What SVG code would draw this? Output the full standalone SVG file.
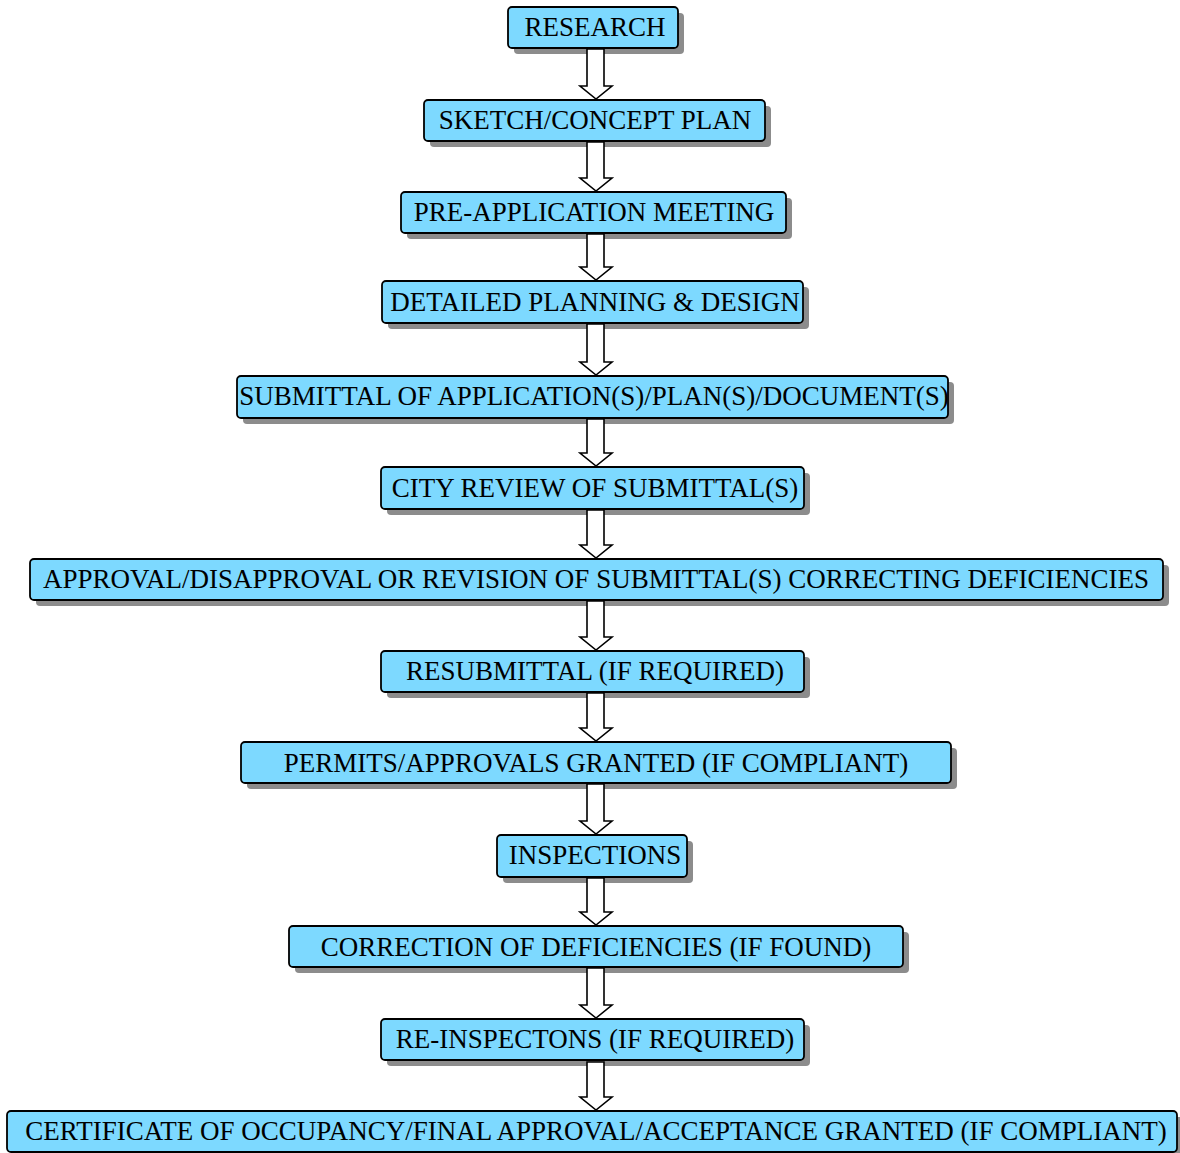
<svg xmlns="http://www.w3.org/2000/svg" width="1180" height="1153" viewBox="0 0 1180 1153">
<style>
.sh{fill:#8c8c8c}
.bx{fill:#7dd9ff;stroke:#000;stroke-width:1.8}
.tx{font-family:"Liberation Serif","Times New Roman",serif;font-size:27px;fill:#000;text-anchor:middle}
.ar{fill:#fff;stroke:#000;stroke-width:1.6;stroke-linejoin:miter}
</style>
<rect width="1180" height="1153" fill="#fff"/>
<g id="n1"><rect class="sh" x="514" y="13" width="170" height="41" rx="4"/><rect class="bx" x="508" y="7" width="170" height="41" rx="4"/><text class="tx" x="595" y="36">RESEARCH</text></g>
<g id="n2"><rect class="sh" x="430" y="106" width="341" height="41" rx="4"/><rect class="bx" x="424" y="100" width="341" height="41" rx="4"/><text class="tx" x="595" y="129">SKETCH/CONCEPT PLAN</text></g>
<g id="n3"><rect class="sh" x="407" y="198" width="385" height="41" rx="4"/><rect class="bx" x="401" y="192" width="385" height="41" rx="4"/><text class="tx" x="594" y="221">PRE-APPLICATION MEETING</text></g>
<g id="n4"><rect class="sh" x="388" y="287" width="421" height="42" rx="4"/><rect class="bx" x="382" y="281" width="421" height="42" rx="4"/><text class="tx" x="595" y="311">DETAILED PLANNING &amp; DESIGN</text></g>
<g id="n5"><rect class="sh" x="243" y="382" width="711" height="42" rx="4"/><rect class="bx" x="237" y="376" width="711" height="42" rx="4"/><text class="tx" x="594" y="405">SUBMITTAL OF APPLICATION(S)/PLAN(S)/DOCUMENT(S)</text></g>
<g id="n6"><rect class="sh" x="387" y="473" width="423" height="42" rx="4"/><rect class="bx" x="381" y="467" width="423" height="42" rx="4"/><text class="tx" x="595" y="497">CITY REVIEW OF SUBMITTAL(S)</text></g>
<g id="n7"><rect class="sh" x="36" y="565" width="1133" height="41" rx="4"/><rect class="bx" x="30" y="559" width="1133" height="41" rx="4"/><text class="tx" x="596" y="588">APPROVAL/DISAPPROVAL OR REVISION OF SUBMITTAL(S) CORRECTING DEFICIENCIES</text></g>
<g id="n8"><rect class="sh" x="387" y="657" width="423" height="41" rx="4"/><rect class="bx" x="381" y="651" width="423" height="41" rx="4"/><text class="tx" x="595" y="680">RESUBMITTAL (IF REQUIRED)</text></g>
<g id="n9"><rect class="sh" x="247" y="748" width="710" height="41" rx="4"/><rect class="bx" x="241" y="742" width="710" height="41" rx="4"/><text class="tx" x="596" y="772">PERMITS/APPROVALS GRANTED (IF COMPLIANT)</text></g>
<g id="n10"><rect class="sh" x="503" y="841" width="190" height="42" rx="4"/><rect class="bx" x="497" y="835" width="190" height="42" rx="4"/><text class="tx" x="595" y="864">INSPECTIONS</text></g>
<g id="n11"><rect class="sh" x="295" y="932" width="614" height="41" rx="4"/><rect class="bx" x="289" y="926" width="614" height="41" rx="4"/><text class="tx" x="596" y="956">CORRECTION OF DEFICIENCIES (IF FOUND)</text></g>
<g id="n12"><rect class="sh" x="387" y="1025" width="423" height="41" rx="4"/><rect class="bx" x="381" y="1019" width="423" height="41" rx="4"/><text class="tx" x="595" y="1048">RE-INSPECTONS (IF REQUIRED)</text></g>
<g id="n13"><rect class="sh" x="13" y="1117" width="1170" height="41" rx="4"/><rect class="bx" x="7" y="1111" width="1170" height="41" rx="4"/><text class="tx" x="596" y="1140">CERTIFICATE OF OCCUPANCY/FINAL APPROVAL/ACCEPTANCE GRANTED (IF COMPLIANT)</text></g>
<g id="connectors">
<path class="ar" d="M587,49 L587,86 L580,86 L596,99 L612,86 L604,86 L604,49 Z"/>
<path class="ar" d="M587,142 L587,178 L580,178 L596,191 L612,178 L604,178 L604,142 Z"/>
<path class="ar" d="M587,234 L587,267 L580,267 L596,280 L612,267 L604,267 L604,234 Z"/>
<path class="ar" d="M587,324 L587,362 L580,362 L596,375 L612,362 L604,362 L604,324 Z"/>
<path class="ar" d="M587,419 L587,453 L580,453 L596,466 L612,453 L604,453 L604,419 Z"/>
<path class="ar" d="M587,510 L587,545 L580,545 L596,558 L612,545 L604,545 L604,510 Z"/>
<path class="ar" d="M587,601 L587,637 L580,637 L596,650 L612,637 L604,637 L604,601 Z"/>
<path class="ar" d="M587,693 L587,728 L580,728 L596,741 L612,728 L604,728 L604,693 Z"/>
<path class="ar" d="M587,784 L587,821 L580,821 L596,834 L612,821 L604,821 L604,784 Z"/>
<path class="ar" d="M587,878 L587,912 L580,912 L596,925 L612,912 L604,912 L604,878 Z"/>
<path class="ar" d="M587,968 L587,1005 L580,1005 L596,1018 L612,1005 L604,1005 L604,968 Z"/>
<path class="ar" d="M587,1062 L587,1097 L580,1097 L596,1110 L612,1097 L604,1097 L604,1062 Z"/>
</g>
</svg>
